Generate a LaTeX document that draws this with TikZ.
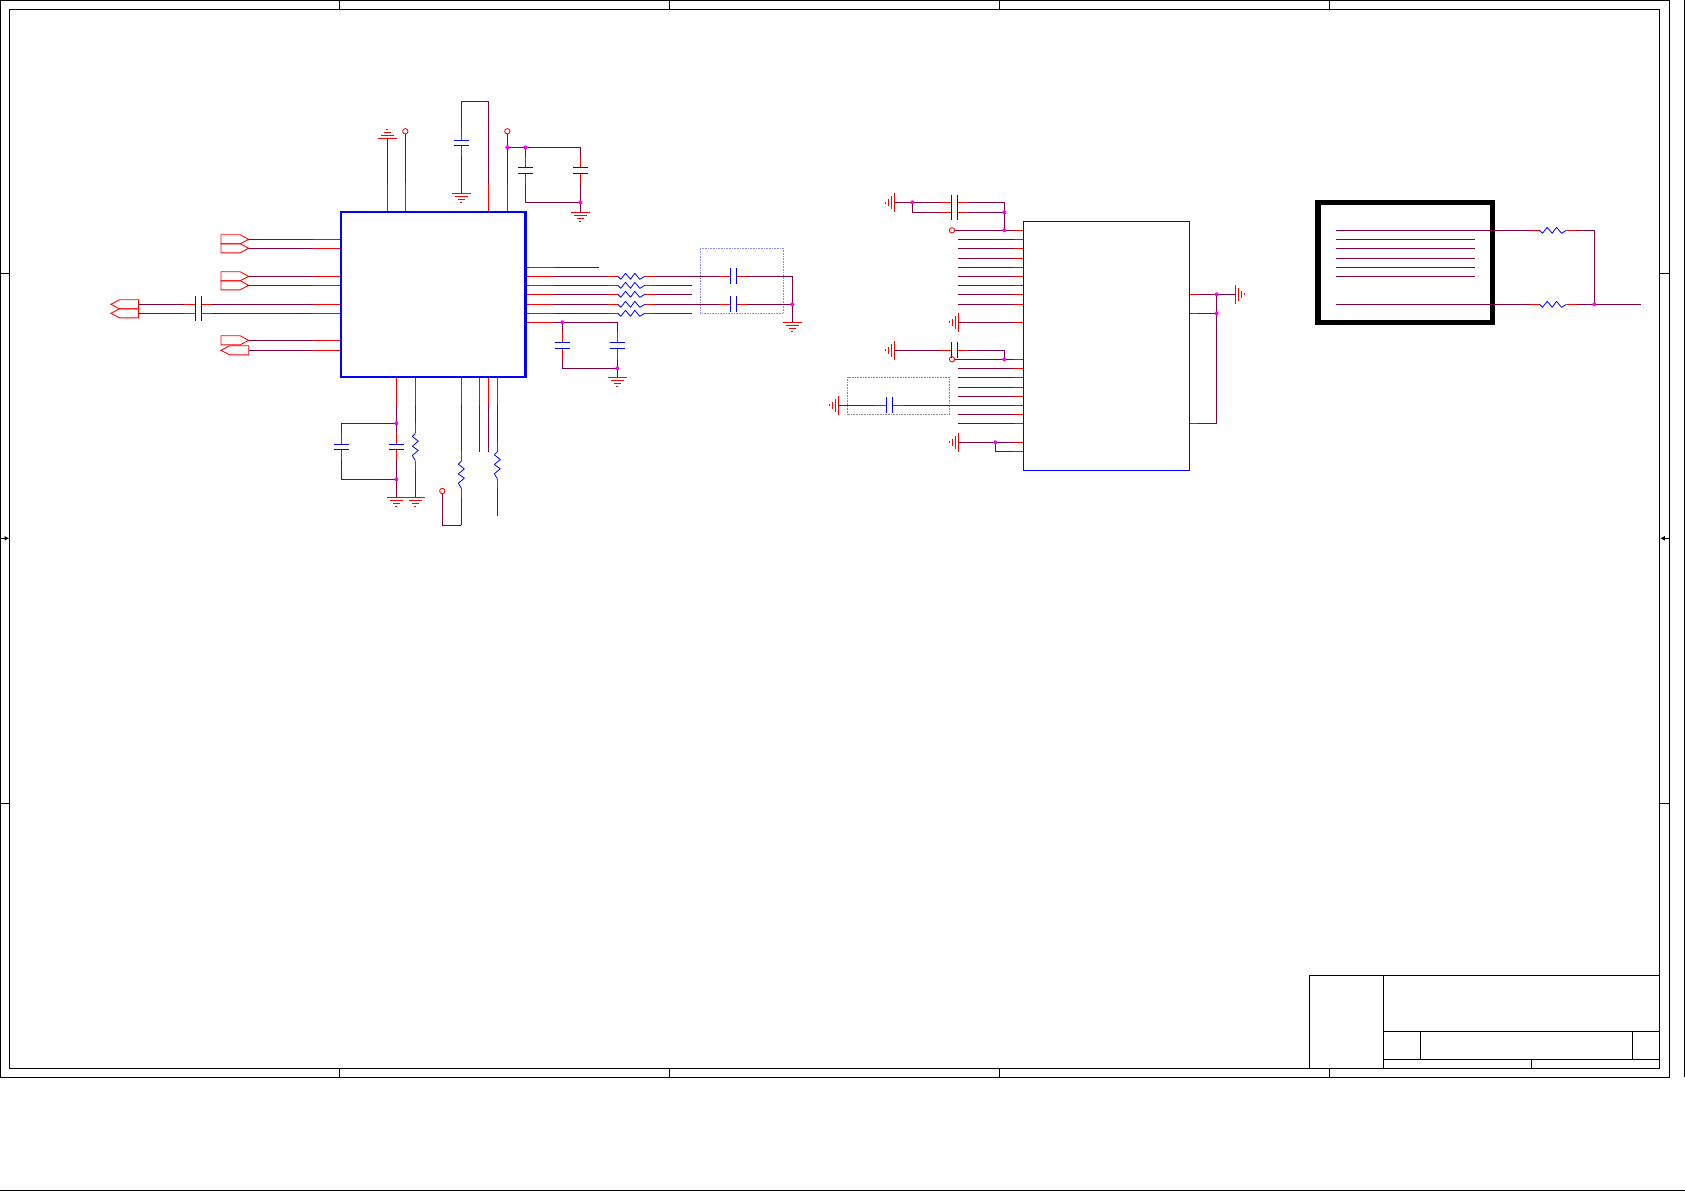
\documentclass[tikz,border=0pt]{standalone}
\usetikzlibrary{calc,arrows.meta}
\definecolor{netc}{RGB}{128,0,64}
\definecolor{jctc}{RGB}{255,0,255}
\tikzset{
  wire/.style={draw=netc,line width=0.8pt,line cap=butt,line join=miter},
  stub/.style={draw=red,line width=0.8pt},
  part/.style={draw=blue,line width=0.85pt},
  zig/.style={draw=blue,line width=0.6pt,line join=bevel},
  frameline/.style={draw=black,line width=0.8pt},
  boxnode/.style={rectangle,inner sep=0pt,outer sep=0pt},
  dotbox/.style={boxnode,line width=0.6pt,dash pattern=on 0.75pt off 0.45pt},
  portshape/.style={draw=red,line width=0.65pt,line join=miter},
  opencirc/.style={draw=red,line width=0.65pt},
  jct/.style={fill=jctc},
  gndsym/.pic={\draw[stub] (-9.3,0)--(9.3,0) (-6.5,3)--(6.5,3) (-3.7,6)--(3.7,6) (-1,9)--(1,9);},
  ressym/.pic={\draw[zig] (-13.5,0)--(-10.5,3)--(-5.8,-3)--(-0.8,3)--(3.5,-3)--(8.5,3)--(13.5,0);},
  portsym/.pic={\draw[portshape] (0,0)--(-8.7,-4.6)--(-27.7,-4.6)--(-27.7,4.6)--(-8.7,4.6)--cycle;},
}
\newcommand\cn[3]{\coordinate (#1) at (#2,#3);}
\newcommand\wirehc[3]{%
  \draw[wire] (#1) -- ($(#2)+(-3,0)$) ($(#2)+(3,0)$) -- (#3);
  \draw[stub] ($(#2)+(-14,0)$) -- ($(#2)+(-3,0)$) ($(#2)+(3,0)$) -- ($(#2)+(14,0)$);}
\newcommand\wirevc[4][3]{%
  \draw[wire] (#2) -- ($(#3)+(0,-#1)$) ($(#3)+(0,#1)$) -- (#4);
  \draw[stub] ($(#3)+(0,-13.5)$) -- ($(#3)+(0,-#1)$) ($(#3)+(0,#1)$) -- ($(#3)+(0,13.5)$);}
\newcommand\hbars[2]{\draw[part] ($(#1)+(-3,-#2)$) -- ($(#1)+(-3,#2)$) ($(#1)+(3,-#2)$) -- ($(#1)+(3,#2)$);}
\newcommand\vbars[3][3]{\draw[part] ($(#2)+(-#3,-#1)$) -- ($(#2)+(#3,-#1)$) ($(#2)+(-#3,#1)$) -- ($(#2)+(#3,#1)$);}
\newcommand\wirehr[3]{%
  \draw[wire] (#1) -- ($(#2)+(-13.5,0)$) ($(#2)+(13.5,0)$) -- (#3);
  \draw[stub] ($(#2)+(-23.5,0)$) -- ($(#2)+(-13.5,0)$) ($(#2)+(13.5,0)$) -- ($(#2)+(23.5,0)$);
  \pic at (#2) {ressym};}
\newcommand\wirevr[3]{%
  \draw[wire] (#1) -- ($(#2)+(0,-13.7)$) ($(#2)+(0,13.7)$) -- (#3);
  \draw[stub] ($(#2)+(0,-23.7)$) -- ($(#2)+(0,-13.7)$) ($(#2)+(0,13.7)$) -- ($(#2)+(0,23.7)$);
  \pic[rotate=-90] at (#2) {ressym};}
\begin{document}
\begin{tikzpicture}[x=0.75pt,y=-0.75pt]
\useasboundingbox (0,0) rectangle (1685,1191);

% ---- sheet frame ----
\draw[frameline] (0.7,0.7) rectangle (1669.4,1077.3);
\draw[frameline] (9.3,9.3) rectangle (1659.3,1068.3);
\draw[frameline] (1684.4,0) -- (1684.4,1077.3);
\draw[frameline] (0,1190.3) -- (1685,1190.3);
\foreach \x in {339.4,669.4,999.4,1329.3}{
  \draw[frameline] (\x,0.7) -- (\x,9.3) (\x,1068.3) -- (\x,1077.3);}
\foreach \y in {273.3,803.3}{
  \draw[frameline] (0.7,\y) -- (9.3,\y) (1659.3,\y) -- (1669.4,\y);}
\draw[frameline,-{Latex[length=3.6pt,width=3.6pt]}] (0.7,538.3) -- (9.3,538.3);
\draw[frameline,-{Latex[length=3.6pt,width=3.6pt]}] (1669.4,538.3) -- (1660,538.3);
% title block
\draw[frameline] (1309.3,1068.3) -- (1309.3,975.3) -- (1659.3,975.3);
\draw[frameline] (1383.3,975.3) -- (1383.3,1068.3);
\draw[frameline] (1383.3,1031.3) -- (1659.3,1031.3);
\draw[frameline] (1383.3,1059.3) -- (1659.3,1059.3);
\draw[frameline] (1420.3,1031.3) -- (1420.3,1059.3);
\draw[frameline] (1632.3,1031.3) -- (1632.3,1059.3);
\draw[frameline] (1531.3,1059.3) -- (1531.3,1068.3);

% ---- boxes ----
\node[boxnode,draw=blue!45!white,dotbox,minimum width=62.25pt,minimum height=48.75pt] (D1) at (741.8,280.8) {};
\node[boxnode,draw=black!45,dotbox,minimum width=76.2pt,minimum height=27.75pt] (D2) at (898.5,395.8) {};
\node[boxnode,draw=black,line width=4.1pt,minimum width=131pt,minimum height=89.85pt] (U3) at (1405.35,262.4) {};

% ---- U1 pins ----
\cn{T1}{387.3}{212}\cn{T2}{405.3}{212}\cn{T3}{488.3}{212}\cn{T4}{507.3}{212}
\cn{B1}{396.3}{377}\cn{B2}{415.3}{377}\cn{B3}{461.3}{377}\cn{B4}{479.3}{377}\cn{B5}{488.3}{377}\cn{B6}{497.3}{377}

% top side
\cn{G1}{387.3}{138.3}\cn{O1}{405.3}{131.3}\cn{O1b}{405.3}{134}
\draw[wire] (T1) -- (G1); \pic[rotate=180] at (G1) {gndsym};
\draw[wire] (T2) -- (O1b); \draw[opencirc] (O1) circle (2pt);
\cn{A1}{488.3}{101.3}\cn{A2}{461.3}{101.3}\cn{C1}{461.3}{142.8}\cn{G2}{461.3}{193.3}
\draw[wire] (T3) -- (A1) -- (A2);
\wirevc[2.5]{A2}{C1}{G2}\vbars[2.5]{C1}{7.7}\pic at (G2) {gndsym};
\cn{O2}{507.3}{131.3}\cn{O2b}{507.3}{134}\cn{J1}{507.3}{147.3}\cn{J2}{525.3}{147.3}
\cn{A3}{580.3}{147.3}\cn{J3}{580.3}{202.3}\cn{A4}{525.3}{202.3}\cn{C2}{525.3}{170.3}\cn{C3}{580.3}{170.3}\cn{G3}{580.3}{212.3}
\draw[wire] (T4) -- (O2b); \draw[opencirc] (O2) circle (2pt);
\draw[wire] (J1) -- (A3);
\wirevc{A3}{C3}{J3}\wirevc{J2}{C2}{A4}\vbars{C2}{7.7}\vbars{C3}{7.7}
\draw[wire] (A4) -- (J3) -- (G3); \pic at (G3) {gndsym};
\foreach \n in {T1,T2,T3,T4}{\draw[stub] (\n) -- ++(0,-29);}

% left side
\foreach \n/\y in {1/239.3,2/248.3,3/276.3,4/285.3,7/340.3,8/350.3}{
  \coordinate (L\n) at (341,\y); \coordinate (P\n) at (248.7,\y);
  \draw[wire] (P\n) -- (L\n);}
\foreach \n in {1,2,3,4,7}{\pic at (P\n) {portsym};}
\cn{P8t}{221}{350.3}\pic[rotate=180] at (P8t) {portsym};
\cn{L5}{341}{304.3}\cn{L6}{341}{313.3}\cn{P5}{138.7}{304.3}\cn{P6}{138.7}{313.3}
\cn{P5t}{110.9}{304.3}\cn{P6t}{110.9}{313.3}\cn{C4a}{198.3}{304.3}\cn{C4b}{198.3}{313.3}\cn{C4}{198.3}{308.8}
\pic[rotate=180] at (P5t) {portsym};\pic[rotate=180] at (P6t) {portsym};
\wirehc{P5}{C4a}{L5}\wirehc{P6}{C4b}{L6}\hbars{C4}{12.5}
\foreach \n in {1,...,8}{\draw[stub] (L\n) -- ++(-28,0);}

% right side
\cn{E0}{599.3}{267.3}\cn{R0}{525.7}{267.3}\draw[wire] (R0) -- (E0);
\foreach \n/\y in {1/276.3,2/285.3,3/294.3,4/304.3,5/313.3}{
  \coordinate (R\n) at (525.7,\y); \coordinate (RR\n) at (631.3,\y); \coordinate (E\n) at (691.7,\y);}
\cn{C5}{733.3}{276.3}\cn{C6}{733.3}{304.3}\cn{A5}{792.3}{276.3}\cn{J4}{792.3}{304.3}\cn{G4}{792.3}{322.3}
\wirehr{R1}{RR1}{E1}\wirehr{R2}{RR2}{E2}\wirehr{R3}{RR3}{E3}\wirehr{R4}{RR4}{E4}\wirehr{R5}{RR5}{E5}
\wirehc{E1}{C5}{A5}\wirehc{E4}{C6}{J4}\hbars{C5}{8}\hbars{C6}{8}
\draw[wire] (A5) -- (G4); \pic at (G4) {gndsym};
\cn{R6}{525.7}{322.3}\cn{J5}{562.3}{322.3}\cn{A6}{617.3}{322.3}\cn{A7}{562.3}{368.3}\cn{J6}{617.3}{368.3}
\cn{C7}{562.3}{345.3}\cn{C8}{617.3}{345.3}\cn{G5}{617.3}{377.3}
\draw[wire] (R6) -- (A6);
\wirevc{A6}{C8}{J6}\wirevc{J5}{C7}{A7}\vbars{C7}{7.7}\vbars{C8}{7.7}
\draw[wire] (A7) -- (J6) -- (G5); \pic at (G5) {gndsym};
\foreach \n in {0,...,6}{\draw[stub] (R\n) -- ++(28,0);}

% bottom side
\cn{J7}{396.3}{423.3}\cn{J8}{396.3}{479.3}\cn{A8}{341.3}{423.3}\cn{A9}{341.3}{479.3}\cn{C9}{396.3}{446.8}\cn{C10}{341.3}{446.8}\cn{G6}{396.3}{497.3}
\draw[wire] (B1) -- (J7) (A8) -- (J7) (A9) -- (J8) -- (G6);
\wirevc[2.5]{J7}{C9}{J8}\wirevc[2.5]{A8}{C10}{A9}\vbars[2.5]{C9}{7.7}\vbars[2.5]{C10}{7.7}
\pic at (G6) {gndsym};
\cn{Z1}{415.3}{447}\cn{G7}{415.3}{497.3}\wirevr{B2}{Z1}{G7}\pic at (G7) {gndsym};
\cn{Z2}{461.3}{474.7}\cn{A10}{461.3}{525.3}\cn{A11}{442.3}{525.3}\cn{O3}{442.3}{491}\cn{O3b}{442.3}{493.7}
\wirevr{B3}{Z2}{A10}\draw[wire] (A10) -- (A11) -- (O3b); \draw[opencirc] (O3) circle (2pt);
\cn{E6}{479.3}{451.7}\cn{E7}{488.3}{451.7}\draw[wire] (B4) -- (E6) (B5) -- (E7);
\cn{Z3}{497.3}{465.3}\cn{E8}{497.3}{516}\wirevr{B6}{Z3}{E8}
\foreach \n in {B1,B2,B3,B4,B5,B6}{\draw[stub] (\n) -- ++(0,28);}

\node[boxnode,draw=blue,line width=2pt,minimum width=138.5pt,minimum height=123.75pt] (U1) at (433.35,294.5) {};

% ---- U2 ----
\foreach \n/\y in {1/239.3,2/248.3,3/258.3,4/267.3,5/276.3,6/285.3,7/294.3,8/304.3,9/368.3,10/377.3,11/387.3,12/396.3,13/414.3,14/423.3}{
  \coordinate (ua\n) at (958,\y); \coordinate (ub\n) at (1023.3,\y);
  \draw[wire] (ua\n) -- (ub\n); \draw[stub] (ub\n) -- ++(-9.3,0);}
\cn{O4}{952}{230.3}\cn{O4b}{954.7}{230.3}\cn{V1}{1023.3}{230.3}\cn{J9}{1004.3}{230.3}
\cn{O5}{952}{359.3}\cn{O5b}{954.7}{359.3}\cn{V2}{1023.3}{359.3}\cn{J10}{1004.3}{359.3}
\draw[opencirc] (O4) circle (2pt); \draw[opencirc] (O5) circle (2pt);
\draw[wire] (O4b) -- (V1); \draw[wire] (O5b) -- (V2);
\cn{G8}{894.3}{202.7}\cn{J11}{912.3}{202.3}\cn{A12}{912.3}{212.3}\cn{C11}{954.3}{202.3}\cn{C12}{954.3}{212.3}\cn{C13}{954.3}{207.3}\cn{A13}{1004.3}{202.3}\cn{J12}{1004.3}{212.3}
\draw[wire] (894.3,202.3) -- (J11) -- (A12);
\wirehc{J11}{C11}{A13}\wirehc{A12}{C12}{J12}\hbars{C13}{12.3}
\draw[wire] (A13) -- (J9); \pic[rotate=-90] at (G8) {gndsym};
\cn{G9}{958.3}{322.3}\cn{V3}{1023.3}{322.3}\draw[wire] (G9) -- (V3);\pic[rotate=-90] at (G9) {gndsym};
\cn{G10}{894.3}{350.3}\cn{C14}{954.3}{350.3}\cn{A14}{1004.3}{350.3}
\wirehc{G10}{C14}{A14}\hbars{C14}{8}\draw[wire] (A14) -- (J10);\pic[rotate=-90] at (G10) {gndsym};
\cn{G11}{838.7}{405.3}\cn{C15}{889.3}{405.3}\cn{V4}{1023.3}{405.3}
\wirehc{G11}{C15}{V4}\hbars{C15}{8}\pic[rotate=-90] at (G11) {gndsym};
\cn{G12}{958.3}{442.3}\cn{J13}{995.3}{442.3}\cn{A15}{995.3}{451.3}\cn{V5}{1023.3}{442.3}\cn{V6}{1023.3}{451.3}
\draw[wire] (G12) -- (V5) (J13) -- (A15) -- (V6);\pic[rotate=-90] at (G12) {gndsym};
\foreach \n in {V1,V2,V3,V4,V5,V6}{\draw[stub] (\n) -- ++(-9.3,0);}
\cn{W1}{1189.3}{294.3}\cn{W2}{1189.3}{313.3}\cn{W3}{1189.3}{423.3}
\cn{J14}{1216.7}{294.3}\cn{J15}{1216.7}{313.3}\cn{A16}{1216.7}{423.3}\cn{G13}{1235.3}{294.3}
\draw[wire] (W1) -- (G13) (W2) -- (J15) (W3) -- (A16) -- (J14);
\pic[rotate=90] at (G13) {gndsym};
\foreach \n in {W1,W2,W3}{\draw[stub] (\n) -- ++(9,0);}
\node[boxnode,draw=blue,line width=0.85pt,minimum width=124.5pt,minimum height=186.45pt] (U2) at (1106.3,346) {};

% ---- U3 ----
\foreach \n/\y in {1/239.3,2/248.3,3/258.3,4/267.3,5/276.3}{
  \coordinate (xc\n) at (1336,\y); \coordinate (xd\n) at (1474.7,\y); \draw[wire] (xc\n) -- (xd\n);}
\cn{X1}{1336}{230.3}\cn{X2}{1336}{304.3}\cn{Z4}{1553}{230.3}\cn{Z5}{1553}{304.3}
\cn{A17}{1594.3}{230.3}\cn{J16}{1594.3}{304.3}\cn{E9}{1640.7}{304.3}
\wirehr{X1}{Z4}{A17}\wirehr{X2}{Z5}{J16}
\draw[wire] (A17) -- (J16) -- (E9);

% ---- junction dots ----
\foreach \n in {J1,J2,J3,J4,J5,J6,J7,J8,J9,J10,J11,J12,J13,J14,J15,J16}{\fill[jct] (\n) circle (1.5pt);}
\end{tikzpicture}
\end{document}
